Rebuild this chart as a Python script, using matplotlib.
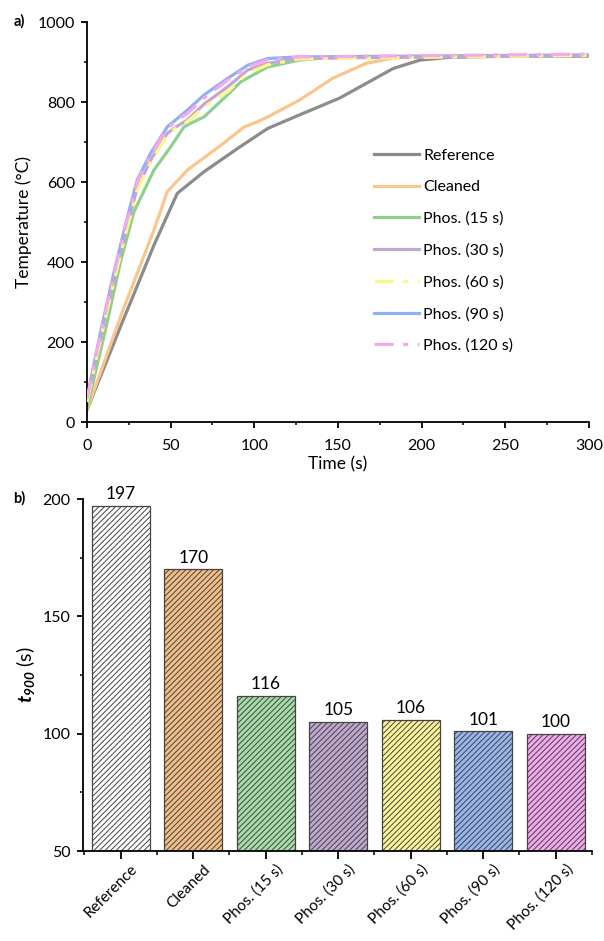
import numpy as np
import matplotlib
matplotlib.use('Agg')
import matplotlib.pyplot as plt
from matplotlib.transforms import ScaledTranslation

plt.rcParams['font.family'] = ['Lato', 'DejaVu Sans']
plt.rcParams['mathtext.fontset'] = 'custom'
plt.rcParams['mathtext.bf'] = 'Lato:bold:italic'
plt.rcParams['hatch.linewidth'] = 0.7

# ── data: heating curves ──────────────────────────────────────
names = ['Reference', 'Cleaned', 'Phos. (15 s)', 'Phos. (30 s)',
         'Phos. (60 s)', 'Phos. (90 s)', 'Phos. (120 s)']
colors = ['#8c8c8c', '#fbc68c', '#8fd08f', '#c3a6d6',
          '#fbf88a', '#8fb2f0', '#f7a6ef']
bar_colors = ['#ffffff', '#f2bd86', '#a6dca6', '#c0a7cf',
              '#fbf69a', '#95b6ee', '#f3a7ee']

t_ref = [0, 20, 40, 54, 70, 90, 108, 127, 151, 167, 183, 199, 217, 250, 300]
T_ref = [30, 238, 442, 572, 626, 684, 734, 768, 810, 847, 884, 905, 912, 915, 915]

t_cln = [0, 20, 40, 48, 60, 80, 94, 102, 108, 127, 147, 167, 183, 200, 250, 300]
T_cln = [30, 263, 480, 576, 630, 692, 738, 751, 763, 805, 860, 897, 910, 914, 916, 916]

t_p15 = [0, 11, 20, 28, 40, 50, 58, 62, 70, 84, 92, 108, 127, 140, 170, 300]
T_p15 = [35, 230, 400, 525, 630, 688, 738, 747, 763, 818, 851, 888, 905, 910, 913, 915]

t_phos = [0, 8, 16, 24, 30, 38, 48, 54, 60, 70, 84, 96, 108, 127, 300]
T_p30 = [55, 210, 355, 490, 585, 655, 722, 740, 755, 795, 838, 880, 897, 910, 916]
T_p60 = [50, 205, 350, 485, 580, 650, 718, 738, 751, 788, 826, 872, 893, 908, 917]
T_p90 = [60, 222, 372, 510, 605, 672, 738, 759, 780, 818, 859, 892, 909, 913, 918]
T_p120 = [58, 218, 368, 505, 600, 668, 734, 755, 772, 810, 855, 888, 906, 913, 920]

curves = [(t_ref, T_ref), (t_cln, T_cln), (t_p15, T_p15), (t_phos, T_p30),
          (t_phos, T_p60), (t_phos, T_p90), (t_phos, T_p120)]
dashdot = (0, (6, 3, 1.5, 3))
styles = ['-', '-', '-', '-', dashdot, '-', dashdot]
zorders = [2, 2, 2, 3, 4, 2, 5]

# ── data: t900 bars ───────────────────────────────────────────
t900 = [197, 170, 116, 105, 106, 101, 100]

fig = plt.figure(figsize=(6.04, 9.41), dpi=100)
ax1 = fig.add_axes([0.144, 0.5515, 0.831, 0.425])
ax2 = fig.add_axes([0.1374, 0.0956, 0.8427, 0.3741])

for ax in (ax1, ax2):
    ax.spines['top'].set_visible(False)
    ax.spines['right'].set_visible(False)
    ax.spines['left'].set_linewidth(1.3)
    ax.spines['bottom'].set_linewidth(1.3)
    ax.tick_params(which='major', direction='out', length=4.5, width=1.3,
                   labelsize=11.5, pad=4.3)
    ax.tick_params(which='minor', direction='out', length=2.5, width=1.1)

# ── a) ───────────────────────────────────────────────────────
for (t, T), name, c, ls, z in zip(curves, names, colors, styles, zorders):
    ax1.plot(t, T, color=c, lw=2.3, ls=ls, label=name, zorder=z)
ax1.set_xlim(0, 300)
ax1.set_ylim(0, 1000)
ax1.set_xticks(np.arange(0, 301, 50))
ax1.set_xticks(np.arange(0, 301, 25), minor=True)
ax1.set_yticks(np.arange(0, 1001, 200))
ax1.set_yticks(np.arange(0, 1001, 100), minor=True)
ax1.tick_params(axis='x', which='major', pad=8)
ax1.set_xlabel('Time (s)', fontsize=12.5, labelpad=2)
ax1.set_ylabel('Temperature (°C)', fontsize=12.5)
ax1.legend(loc='upper left', bbox_to_anchor=(0.544, 0.72), frameon=False,
           fontsize=11.5, handlelength=2.8, handletextpad=0.25, labelspacing=1.09)
fig.text(0.022, 0.977, 'a)', fontsize=10.5, fontweight='bold', va='center')

# ── b) ───────────────────────────────────────────────────────
x = np.arange(len(names))
bars = ax2.bar(x, t900, width=0.805, bottom=0, color=bar_colors,
               edgecolor='#444444', linewidth=0.9, hatch='//////')
for b, v in zip(bars, t900):
    ax2.text(b.get_x() + b.get_width() / 2, v + 1.6, str(v),
             ha='center', va='bottom', fontsize=12.5)
ax2.set_ylim(50, 200)
ax2.set_xlim(-0.52, 6.5)
ax2.set_yticks([50, 100, 150, 200])
ax2.set_yticks(np.arange(50, 201, 25), minor=True)
ax2.set_xticks(x)
ax2.set_xticks(np.arange(-0.5, 6.6, 1), minor=True)
ax2.tick_params(axis='x', which='major', length=6, pad=2)
ax2.tick_params(axis='x', which='minor', length=3)
ax2.set_xticklabels(names, rotation=45, ha='right', va='top',
                    rotation_mode='anchor', fontsize=11)
shift = ScaledTranslation(0.10, 0.0, fig.dpi_scale_trans)
for lbl in ax2.get_xticklabels():
    lbl.set_transform(lbl.get_transform() + shift)
ax2.set_ylabel(r'$\mathbf{t_{900}}$ (s)', fontsize=14)
fig.text(0.022, 0.4708, 'b)', fontsize=10.5, fontweight='bold', va='center')

fig.savefig('out.png', dpi=100)
